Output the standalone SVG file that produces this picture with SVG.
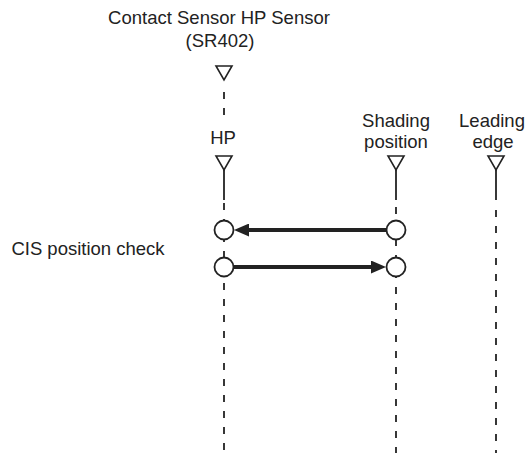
<svg xmlns="http://www.w3.org/2000/svg" width="527" height="453" viewBox="0 0 527 453">
<defs>
<style>
text{font-family:"Liberation Sans",Arial,sans-serif;font-size:18.5px;fill:#222;text-anchor:middle}
.tri{fill:#fff;stroke:#222;stroke-width:1.6;stroke-linejoin:miter}
.solid{stroke:#222;stroke-width:1.8;fill:none}
.dash{stroke:#222;stroke-width:1.8;fill:none;stroke-dasharray:7 9}
.pt{fill:#fff;stroke:#222;stroke-width:1.8}
.arr{stroke:#222;stroke-width:4;fill:none;marker-end:url(#ah)}
</style>
<marker id="ah" markerUnits="userSpaceOnUse" markerWidth="15" markerHeight="13" refX="7" refY="6.5" orient="auto">
<path d="M0,0 L15,6.5 L0,13 Z" fill="#222"/>
</marker>
</defs>
<g id="title">
<text x="219" y="24">Contact Sensor HP Sensor</text>
<text x="220" y="47">(SR402)</text>
</g>
<g id="sensor">
<line class="dash" x1="224" y1="92" x2="224" y2="118"/>
<polygon class="tri" points="216,66 232,66 224,80"/>
</g>
<g id="hp">
<text x="223" y="144">HP</text>
<line class="solid" x1="224" y1="169" x2="224" y2="200"/>
<line class="dash" x1="224" y1="203" x2="224" y2="453"/>
<polygon class="tri" points="216,156 232,156 224,170"/>
</g>
<g id="shading">
<text x="396" y="127">Shading</text>
<text x="396" y="148">position</text>
<line class="solid" x1="396" y1="169" x2="396" y2="200"/>
<line class="dash" x1="396" y1="207" x2="396" y2="453"/>
<polygon class="tri" points="388,156 404,156 396,170"/>
</g>
<g id="leading">
<text x="492" y="127">Leading</text>
<text x="493" y="148">edge</text>
<line class="solid" x1="496" y1="169" x2="496" y2="200"/>
<line class="dash" x1="496" y1="210" x2="496" y2="453"/>
<polygon class="tri" points="488,156 504,156 496,170"/>
</g>
<g id="cis">
<text x="88" y="255">CIS position check</text>
</g>
<g id="connectors">
<line class="arr" x1="387" y1="230" x2="242" y2="230"/>
<line class="arr" x1="233" y1="267" x2="378" y2="267"/>
</g>
<g id="points">
<circle class="pt" cx="224" cy="230" r="9.5"/>
<circle class="pt" cx="396" cy="230" r="9.5"/>
<circle class="pt" cx="224" cy="267" r="9.5"/>
<circle class="pt" cx="396" cy="267" r="9.5"/>
</g>
</svg>
